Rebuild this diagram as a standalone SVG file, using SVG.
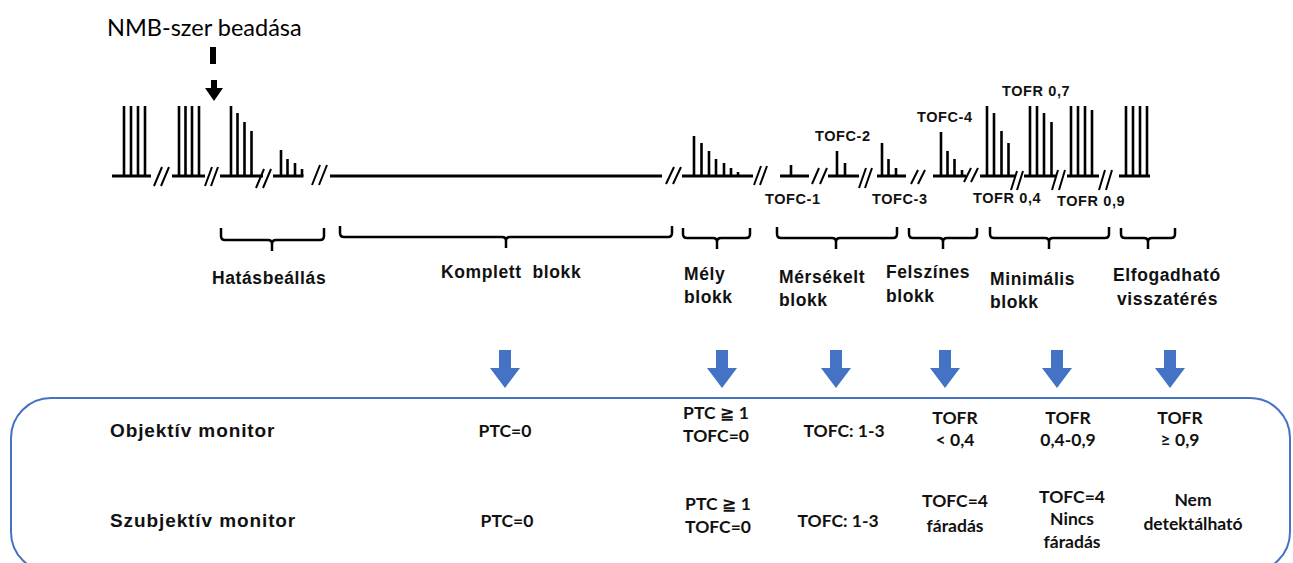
<svg xmlns="http://www.w3.org/2000/svg" width="1293" height="563" viewBox="0 0 1293 563">
<style>
.bar{fill:none;stroke:#000;stroke-width:2.6;stroke-linecap:butt}
.base{fill:none;stroke:#000;stroke-width:3}
.sl{fill:none;stroke:#000;stroke-width:2}
.br{fill:none;stroke:#000;stroke-width:2.5;stroke-linejoin:round}
.tl{font-family:"Liberation Sans",Arial,sans-serif;font-weight:bold;font-size:14.5px;letter-spacing:0.6px;fill:#111}
.bl{font-family:"Liberation Sans",Arial,sans-serif;font-weight:bold;font-size:17.5px;letter-spacing:0.6px;fill:#111}
.ml{font-family:"Liberation Sans",Arial,sans-serif;font-weight:bold;font-size:19px;letter-spacing:0.9px;fill:#111}
.v{font-family:Lato,"Liberation Sans","DejaVu Sans",sans-serif;font-weight:bold;font-size:17.5px;fill:#111;text-anchor:middle}
.hd{font-family:Lato,"Liberation Sans",sans-serif;font-size:23.5px;fill:#000}
.blue{fill:#4472C4}
</style>
<defs>
<path id="darr" d="M-6,0 H6 V18 H15 L0,38 L-15,18 H-6 Z"/>
</defs>

<g id="nmb-marker">
<text class="hd" x="107" y="36">NMB-szer beadása</text>
<rect x="210" y="47" width="6" height="17" fill="#000"/>
<path d="M211,80 H217 V88 H223 L214,101 L205,88 H211 Z" fill="#000"/>
</g>

<g id="twitch-trace">
<path class="base" d="M112,176 H151 M172,176 H205 M220,176 H263 M273,176 H303.5 M330,176 H662 M682,176 H753 M780,176 H809 M828,176 H859 M877,176 H906 M933,176 H966 M980,176 H1016 M1024,176 H1056 M1067,176 H1099 M1119,176 H1150"/>
<path class="bar" d="M124,176 V106 M131,176 V106 M138,176 V106 M145,176 V106
M179,176 V106 M185.5,176 V106 M192,176 V106 M199,176 V106
M231,176 V106 M237.5,176 V113 M244.5,176 V122 M251.5,176 V131
M281,176 V150 M287.5,176 V159 M295,176 V163 M302,176 V169
M694,176 V136 M701.5,176 V143 M709,176 V151 M716,176 V159 M724,176 V163 M731,176 V168 M738,176 V172
M791,176 V165
M837,176 V151 M845,176 V163
M882,176 V143 M888.5,176 V159 M896,176 V168
M941,176 V132 M947.5,176 V151 M954.5,176 V159 M962,176 V170
M987,176 V106 M994,176 V113 M1001.5,176 V131 M1008.5,176 V143
M1030,176 V106 M1037,176 V106 M1044,176 V113 M1051.5,176 V122
M1071,176 V106 M1078,176 V106 M1085,176 V106 M1092,176 V110
M1126,176 V106 M1133,176 V106 M1140,176 V106 M1147,176 V106"/>
<path class="sl" d="M154,186 L162,167 M161,186 L169,167
M205,186 L212,167 M211,186 L218,167
M256,188 L264,169 M263,188 L271,169
M312,185 L320,165 M319,185 L327,165
M666,184 L674,167 M673,184 L681,167
M754,185 L761,166 M760,185 L767,166
M812,184 L819,168 M820,184 L827,168
M859,188 L866,168 M865,188 L872,168
M911,184 L918,170 M918,184 L925,170
M964,182 L971,168 M971,182 L978,168
M1011,190 L1017,171 M1017,190 L1023,171
M1052,190 L1058,170 M1059,190 L1065,170
M1099,190 L1105,170 M1106,190 L1112,170"/>
</g>

<g id="twitch-labels">
<text class="tl" x="765" y="204">TOFC-1</text>
<text class="tl" x="815" y="141">TOFC-2</text>
<text class="tl" x="872" y="204">TOFC-3</text>
<text class="tl" x="917" y="122">TOFC-4</text>
<text class="tl" x="1002" y="96">TOFR 0,7</text>
<text class="tl" x="973" y="203">TOFR 0,4</text>
<text class="tl" x="1057" y="206">TOFR 0,9</text>
</g>

<g id="braces">
<path class="br" d="M221,228 V236 Q221,240 225,240 H268 Q272,240 272,244 V251 M272,244 Q272,240 276,240 H320 Q324,240 324,236 V228"/>
<path class="br" d="M340,226 V233 Q340,237 344,237 H502 Q506,237 506,241 V248 M506,241 Q506,237 510,237 H668 Q672,237 672,233 V226"/>
<path class="br" d="M683,228 V234 Q683,238 687,238 H713 Q717,238 717,242 V249 M717,242 Q717,238 721,238 H746 Q750,238 750,234 V228"/>
<path class="br" d="M777,227 V234 Q777,238 781,238 H832 Q836,238 836,242 V249 M836,242 Q836,238 840,238 H893 Q897,238 897,234 V227"/>
<path class="br" d="M909,228 V234 Q909,238 913,238 H939 Q943,238 943,242 V249 M943,242 Q943,238 947,238 H973 Q977,238 977,234 V228"/>
<path class="br" d="M990,227 V234 Q990,238 994,238 H1045 Q1049,238 1049,242 V249 M1049,242 Q1049,238 1053,238 H1105 Q1109,238 1109,234 V227"/>
<path class="br" d="M1121,228 V234 Q1121,238 1125,238 H1144 Q1148,238 1148,242 V249 M1148,242 Q1148,238 1152,238 H1171 Q1175,238 1175,234 V228"/>
</g>

<g id="phase-labels">
<text class="bl" x="212" y="284">Hatásbeállás</text>
<text class="bl" x="441" y="278" xml:space="preserve">Komplett  blokk</text>
<text class="bl" x="684" y="280">Mély</text>
<text class="bl" x="684" y="303">blokk</text>
<text class="bl" x="779" y="283">Mérsékelt</text>
<text class="bl" x="779" y="306">blokk</text>
<text class="bl" x="886" y="278">Felszínes</text>
<text class="bl" x="886" y="302">blokk</text>
<text class="bl" x="990" y="285">Minimális</text>
<text class="bl" x="990" y="308">blokk</text>
<text class="bl" x="1113" y="281">Elfogadható</text>
<text class="bl" x="1117" y="305">visszatérés</text>
</g>

<g id="connectors">
<use href="#darr" class="blue" transform="translate(505,350)"/>
<use href="#darr" class="blue" transform="translate(722,350)"/>
<use href="#darr" class="blue" transform="translate(836,350)"/>
<use href="#darr" class="blue" transform="translate(945,350)"/>
<use href="#darr" class="blue" transform="translate(1057,350)"/>
<use href="#darr" class="blue" transform="translate(1170,350)"/>
</g>

<g id="monitor-box">
<rect x="11" y="398" width="1279" height="174" rx="40" ry="40" fill="none" stroke="#4472C4" stroke-width="2"/>
<text class="ml" x="110" y="437">Objektív monitor</text>
<text class="ml" x="110" y="527">Szubjektív monitor</text>
</g>

<g id="objective-values">
<text class="v" x="505" y="437">PTC=0</text>
<text class="v" x="716" y="419">PTC ≧ 1</text>
<text class="v" x="716" y="442">TOFC=0</text>
<text class="v" x="844" y="437">TOFC: 1-3</text>
<text class="v" x="955" y="424">TOFR</text>
<text class="v" x="955" y="446">&lt; 0,4</text>
<text class="v" x="1068" y="424">TOFR</text>
<text class="v" x="1068" y="446">0,4-0,9</text>
<text class="v" x="1180" y="424">TOFR</text>
<text class="v" x="1180" y="446">≥ 0,9</text>
</g>

<g id="subjective-values">
<text class="v" x="507" y="527">PTC=0</text>
<text class="v" x="718" y="510">PTC ≧ 1</text>
<text class="v" x="718" y="533">TOFC=0</text>
<text class="v" x="838" y="527">TOFC: 1-3</text>
<text class="v" x="955" y="507">TOFC=4</text>
<text class="v" x="955" y="532">fáradás</text>
<text class="v" x="1072" y="503">TOFC=4</text>
<text class="v" x="1072" y="525">Nincs</text>
<text class="v" x="1072" y="548">fáradás</text>
<text class="v" x="1193" y="506">Nem</text>
<text class="v" x="1193" y="530">detektálható</text>
</g>
</svg>
